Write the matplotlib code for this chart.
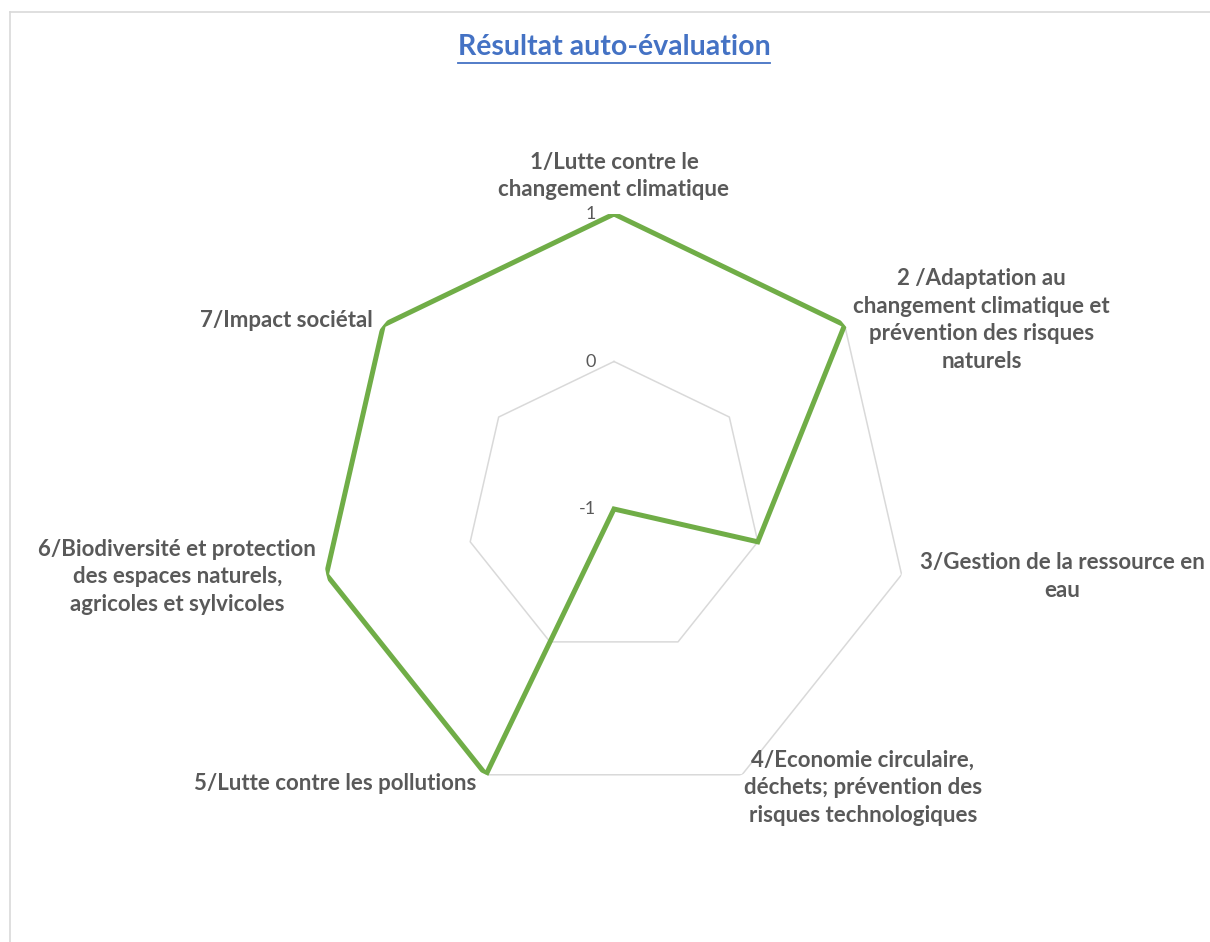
import matplotlib
matplotlib.use("Agg")
import matplotlib.pyplot as plt
from matplotlib.lines import Line2D
import numpy as np

plt.rcParams['font.family'] = ['Lato', 'DejaVu Sans']

# data
categories = [
    "1/Lutte contre le\nchangement climatique",
    "2 /Adaptation au\nchangement climatique et\nprévention des risques\nnaturels",
    "3/Gestion de la ressource en\neau",
    "4/Economie circulaire,\ndéchets; prévention des\nrisques technologiques",
    "5/Lutte contre les pollutions",
    "6/Biodiversité et protection\ndes espaces naturels,\nagricoles et sylvicoles",
    "7/Impact sociétal",
]
scores = [1, 1, 0, -1, 1, 1, 1]
ring_levels = [-1, 0, 1]
title = "Résultat auto-évaluation"

# label placement: (offset px x, offset px y, ha, va)
label_pos = [
    (0, 14, 'center', 'bottom'),
    (137, 5, 'center', 'center'),
    (18, -2, 'left', 'center'),
    (121, -13, 'center', 'center'),
    (-10, -9, 'right', 'center'),
    (-149, -2, 'center', 'center'),
    (-11, 5, 'right', 'center'),
]

GREEN = '#70AD47'
GRID = '#D9D9D9'
TEXT = '#595959'

W, H = 1210, 942
fig = plt.figure(figsize=(W / 100, H / 100), dpi=100)

# chart frame (excel style border, partially cropped)
fig.add_artist(Line2D([10 / W, 10 / W], [0, 1 - 12 / H], color=GRID, lw=1.2))
fig.add_artist(Line2D([10 / W, 1], [1 - 12 / H, 1 - 12 / H], color=GRID, lw=1.2))

cx, cy, R = 614, 509, 295
ax = fig.add_axes([(cx - R) / W, 1 - (cy + R) / H, 2 * R / W, 2 * R / H], projection='polar')
ax.set_theta_offset(np.pi / 2)
ax.set_theta_direction(-1)
ax.set_ylim(ring_levels[0], ring_levels[-1])
ax.grid(False)
ax.spines['polar'].set_visible(False)
ax.set_xticks([])
ax.set_yticks([])
ax.patch.set_alpha(0)

n = len(categories)
angles = np.arange(n) * 2 * np.pi / n
closed = np.append(angles, angles[0])

# heptagon grid
for lev in ring_levels[1:]:
    ax.plot(closed, [lev] * (n + 1), color=GRID, lw=1.1, zorder=1)

ax.plot(closed, scores + scores[:1], color=GREEN, lw=3.6, zorder=3,
        solid_joinstyle='miter')

for lev in ring_levels:
    ax.annotate(str(lev), xy=(0, lev), xytext=(-18, 0), textcoords='offset pixels',
                ha='right', va='center', fontsize=13, color=TEXT)

for a, lab, (dx, dy, ha, va) in zip(angles, categories, label_pos):
    ax.annotate(lab, xy=(a, 1), xytext=(dx, dy), textcoords='offset pixels',
                ha=ha, va=va, multialignment='center', fontsize=16,
                fontweight='bold', color=TEXT, linespacing=1.38,
                annotation_clip=False)

t = fig.text(cx / W, 1 - 47 / H, title, ha='center', va='center',
             fontsize=20.5, fontweight='bold', color='#4472C4')
fig.canvas.draw()
bb = t.get_window_extent()
uy = 1 - 63 / H
fig.add_artist(Line2D([bb.x0 / W, bb.x1 / W], [uy, uy], color='#4472C4', lw=1.3))

fig.savefig('out.png', dpi=100)
